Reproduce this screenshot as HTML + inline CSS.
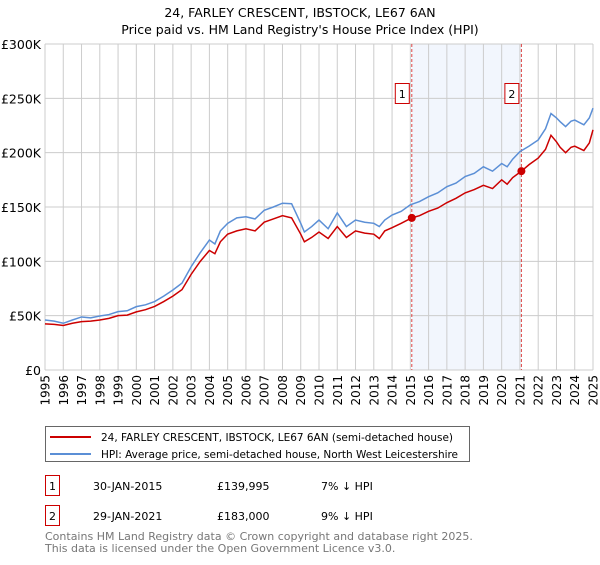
<!DOCTYPE html>
<html><head><meta charset="utf-8"><style>
body{margin:0;background:#fff;font-family:"Liberation Sans","DejaVu Sans",sans-serif;}
svg text{font-family:"DejaVu Sans","Liberation Sans",sans-serif;}
</style></head><body>
<svg id="chart" width="600" height="560" xmlns="http://www.w3.org/2000/svg">
<text x="300" y="17" text-anchor="middle" font-size="12.5" fill="#000">24, FARLEY CRESCENT, IBSTOCK, LE67 6AN</text>
<text x="300" y="34" text-anchor="middle" font-size="12.5" fill="#000">Price paid vs. HM Land Registry's House Price Index (HPI)</text>
<g id="grid"></g>
<g id="series"></g>
<g>
<rect x="45.5" y="426.5" width="424" height="35" fill="#fff" stroke="#666"/>
<line x1="50" y1="437" x2="91" y2="437" stroke="#cc0000" stroke-width="2"/>
<text x="101" y="441" font-size="10.5" textLength="352">24, FARLEY CRESCENT, IBSTOCK, LE67 6AN (semi-detached house)</text>
<line x1="50" y1="454" x2="91" y2="454" stroke="#5b8fd6" stroke-width="2"/>
<text x="101" y="458" font-size="10.5" textLength="357">HPI: Average price, semi-detached house, North West Leicestershire</text>
</g>
<g font-size="11">
<rect x="45.5" y="475.5" width="14" height="20" fill="#fff" stroke="#cc0000"/>
<text x="52.5" y="490" text-anchor="middle">1</text>
<text x="93" y="490">30-JAN-2015</text><text x="217" y="490">£139,995</text><text x="321" y="490">7% ↓ HPI</text>
<rect x="45.5" y="505.5" width="14" height="20" fill="#fff" stroke="#cc0000"/>
<text x="52.5" y="520" text-anchor="middle">2</text>
<text x="93" y="520">29-JAN-2021</text><text x="217" y="520">£183,000</text><text x="321" y="520">9% ↓ HPI</text>
</g>
<g font-size="11" fill="#777">
<text x="45" y="540">Contains HM Land Registry data © Crown copyright and database right 2025.</text>
<text x="45" y="552">This data is licensed under the Open Government Licence v3.0.</text>
</g>
</svg>
<script>
const yearTicks=[1995,1996,1997,1998,1999,2000,2001,2002,2003,2004,2005,2006,2007,2008,2009,2010,2011,2012,2013,2014,2015,2016,2017,2018,2019,2020,2021,2022,2023,2024,2025];
const valueTicks=[0,50000,100000,150000,200000,250000,300000];
const valueTickLabels=["£0","£50K","£100K","£150K","£200K","£250K","£300K"];
const hpiDates=[1995,1995.5,1996,1996.5,1997,1997.5,1998,1998.5,1999,1999.5,2000,2000.5,2001,2001.5,2002,2002.5,2003,2003.5,2004,2004.3,2004.6,2005,2005.5,2006,2006.5,2007,2007.5,2008,2008.5,2009,2009.2,2009.6,2010,2010.5,2011,2011.5,2012,2012.5,2013,2013.3,2013.6,2014,2014.5,2015,2015.5,2016,2016.5,2017,2017.5,2018,2018.5,2019,2019.5,2020,2020.3,2020.6,2021,2021.5,2022,2022.4,2022.7,2023,2023.2,2023.5,2023.8,2024,2024.5,2024.8,2025];
const hpiValues=[46000,45000,43000,46000,48800,48000,49700,51000,53700,54500,58300,60000,63000,68000,73600,80000,95000,108000,119600,116000,128000,135000,140000,141000,139000,147000,150000,153500,153000,135000,127000,132000,138000,130000,144500,132000,138000,136000,135000,132000,138000,142600,146000,152000,155000,159500,163000,168700,172000,178000,181000,187000,183000,190000,187000,194000,201000,206000,211700,222000,236000,232000,228500,224000,229000,230000,225600,232000,241000];
const saleDates=[1995,1995.5,1996,1996.5,1997,1997.5,1998,1998.5,1999,1999.5,2000,2000.5,2001,2001.5,2002,2002.5,2003,2003.5,2004,2004.3,2004.6,2005,2005.5,2006,2006.5,2007,2007.5,2008,2008.5,2009,2009.2,2009.6,2010,2010.5,2011,2011.5,2012,2012.5,2013,2013.3,2013.6,2014,2014.5,2015.08,2015.5,2016,2016.5,2017,2017.5,2018,2018.5,2019,2019.5,2020,2020.3,2020.6,2021.08,2021.5,2022,2022.4,2022.7,2023,2023.2,2023.5,2023.8,2024,2024.5,2024.8,2025];
const saleValues=[42500,42000,41000,43000,44500,45000,46000,47500,50000,50500,53500,55500,58500,63000,68000,74000,88000,100000,110000,107000,118000,125000,128000,130000,128000,136000,139000,142000,140000,125000,118000,122000,127000,121000,132000,122000,128000,126000,125000,121000,128000,131000,135000,139995,142000,146000,149000,154000,158000,163000,166000,170000,167000,175000,171000,177000,183000,189000,195000,203000,216000,210000,205000,200000,205000,206000,202000,209000,221000];
const saleMarkerDates=[2015.08,2021.08];
const saleMarkerValues=[139995,183000];
const saleMarkerLabels=["1","2"];

const X0=45,X1=593,Y0=370,Y1=44;
const xs=d=>X0+(d-1995)/30*(X1-X0);
const ys=v=>Y0-v/300000*(Y0-Y1);
const NS="http://www.w3.org/2000/svg";
const grid=document.getElementById('grid'),ser=document.getElementById('series');
function mk(tag,attrs,parent){const e=document.createElementNS(NS,tag);for(const k in attrs)e.setAttribute(k,attrs[k]);parent.appendChild(e);return e;}
const sh=mk('rect',{x:xs(saleMarkerDates[0]),y:Y1,width:xs(saleMarkerDates[1])-xs(saleMarkerDates[0]),height:Y0-Y1,fill:'#f2f6fd'},grid);


yearTicks.forEach(y=>{
  const l=mk('line',{x1:xs(y),x2:xs(y),y1:Y1,y2:Y0,stroke:'#cccccc','stroke-width':1},grid);
  
  
  const t=mk('text',{x:0,y:0,'font-size':12,'text-anchor':'end',transform:`translate(${xs(y)+4.5},${Y0+5}) rotate(-90)`},grid);
  t.textContent=y;
  
  
});
valueTicks.forEach((v,i)=>{
  const l=mk('line',{x1:X0,x2:X1,y1:ys(v),y2:ys(v),stroke:'#cccccc','stroke-width':1},grid);
  
  
  const t=mk('text',{x:X0-4,y:ys(v)+5,'font-size':12.5,'text-anchor':'end'},grid);
  t.textContent=valueTickLabels[i];
  
  
});
saleMarkerDates.forEach((d,i)=>{
  const l=mk('line',{x1:xs(d),x2:xs(d),y1:Y1,y2:Y0,stroke:'#dd4444','stroke-width':1,'stroke-dasharray':'3,2'},ser);
  
  
  const b=mk('rect',{x:xs(d)-16.5,y:83.5,width:14,height:20,fill:'#fff',stroke:'#cc0000'},ser);
  
  
  const t=mk('text',{x:xs(d)-9.5,y:98,'font-size':11,'text-anchor':'middle'},ser);
  t.textContent=saleMarkerLabels[i];
  
  
});
const hp=mk('polyline',{points:hpiDates.map((d,i)=>xs(d)+','+ys(hpiValues[i])).join(' '),fill:'none',stroke:'#5b8fd6','stroke-width':1.5},ser);


const sp=mk('polyline',{points:saleDates.map((d,i)=>xs(d)+','+ys(saleValues[i])).join(' '),fill:'none',stroke:'#cc0000','stroke-width':1.5},ser);


saleMarkerDates.forEach((d,i)=>{
  const c=mk('circle',{cx:xs(d),cy:ys(saleMarkerValues[i]),r:4,fill:'#cc0000'},ser);
  
  
});
</script>
</body></html>
